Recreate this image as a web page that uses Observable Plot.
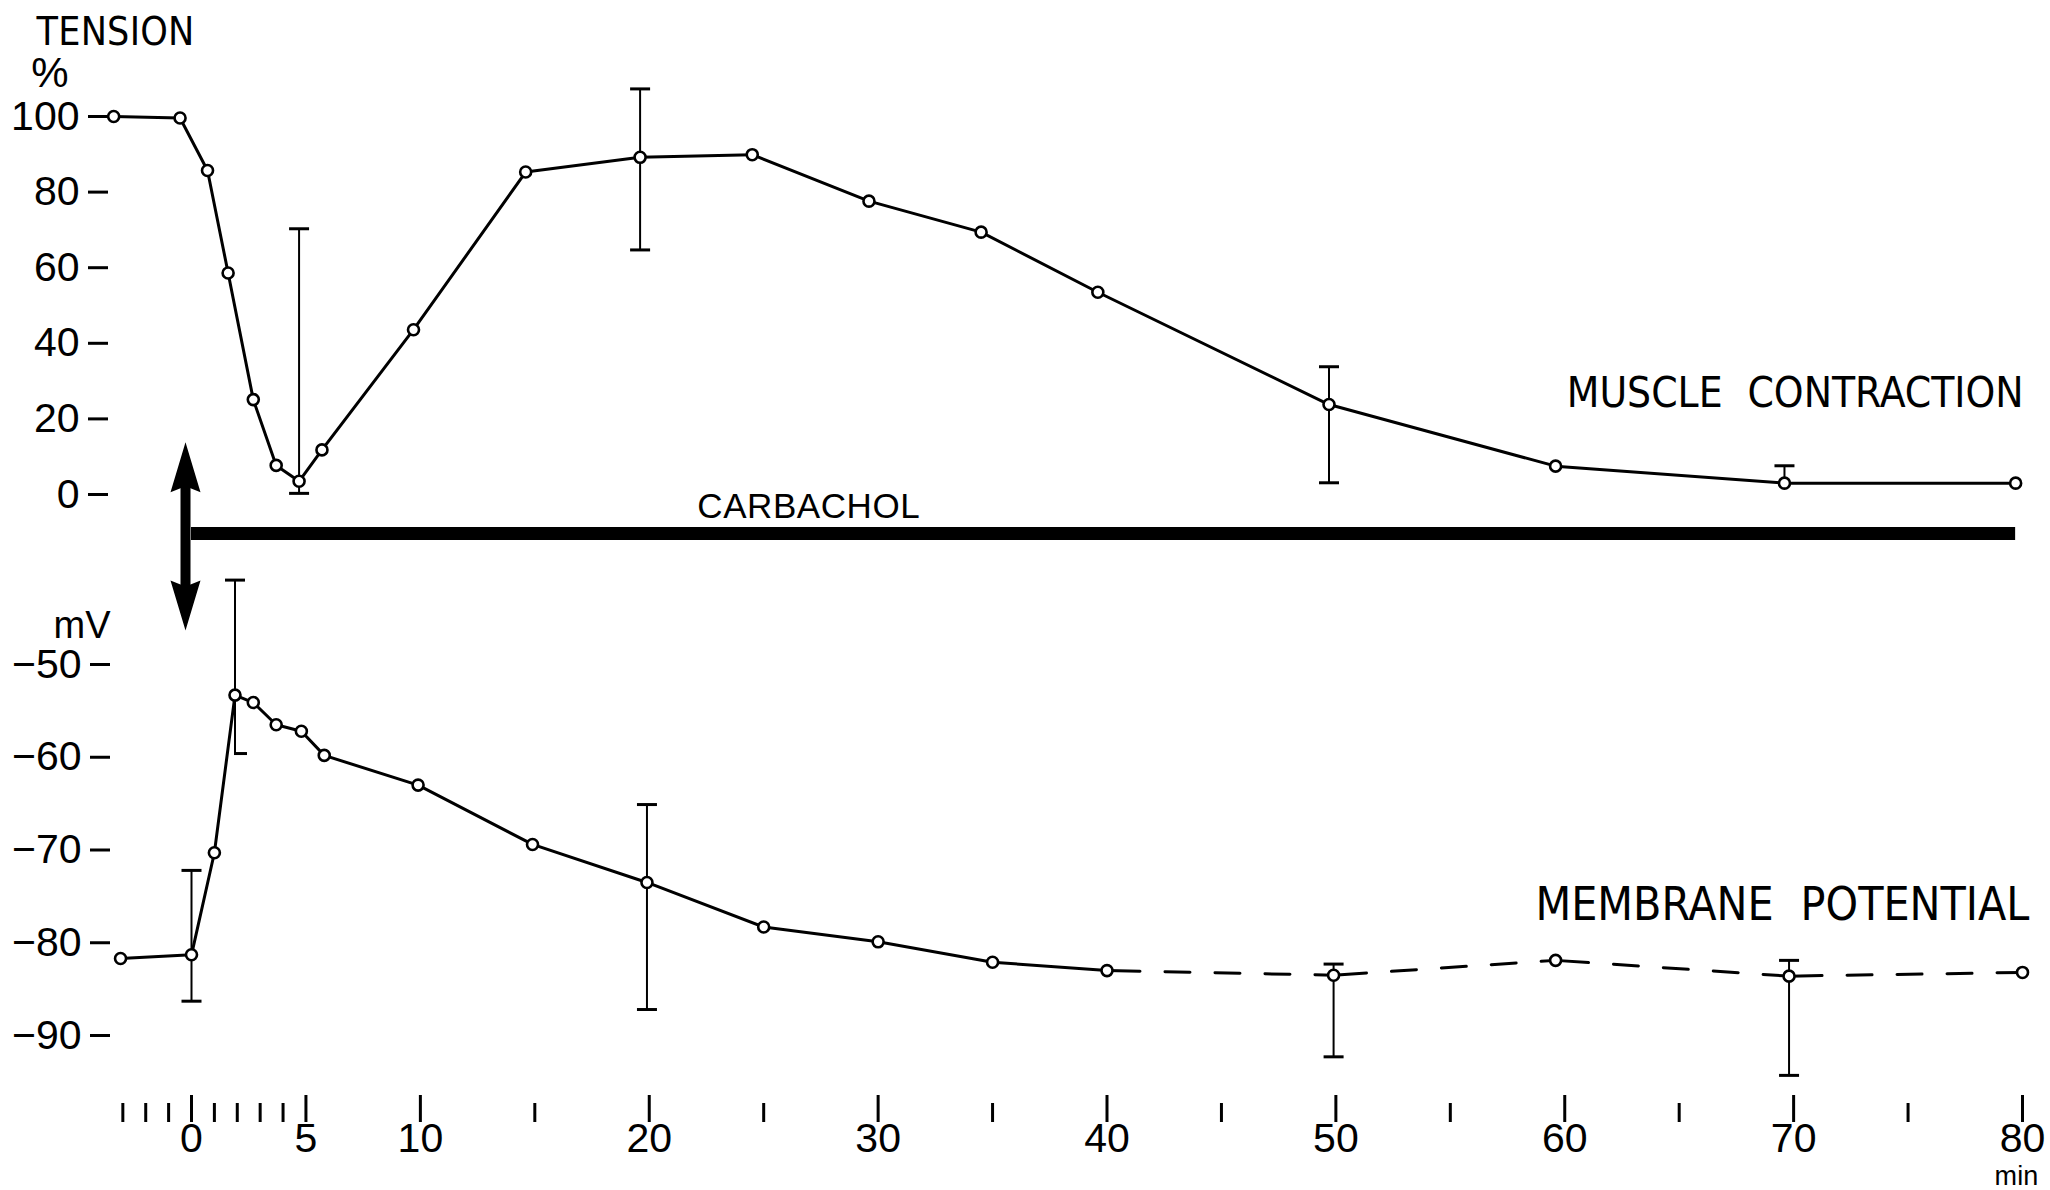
<!DOCTYPE html>
<html>
<head>
<meta charset="utf-8">
<script src="https://cdn.jsdelivr.net/npm/d3@7"></script>
<script src="https://cdn.jsdelivr.net/npm/@observablehq/plot@0.6"></script>
<style>
  html, body { margin: 0; padding: 0; background: #fff; overflow: hidden; }
  #chart { position: relative; width: 2050px; height: 1190px; }
  #chart svg { position: absolute; left: 0; top: 0; }
</style>
</head>
<body>
<div id="chart"></div>
<script>
// ---- Data (time in minutes relative to carbachol application) ----

// Muscle contraction, tension in % of control
const tensionTime = [-3.4, -0.5, 0.7, 1.6, 2.7, 3.7, 4.7, 5.7, 9.7, 14.6, 19.6, 24.5, 29.6, 34.5, 39.6, 49.7, 59.6, 69.6, 79.7];
const tensionPct  = [100, 99.6, 85.7, 58.6, 25.1, 7.7, 3.5, 11.8, 43.6, 85.3, 89.2, 89.9, 77.6, 69.4, 53.5, 23.8, 7.5, 3.0, 3.0];
const tensionErrTime = [4.7, 19.6, 49.7, 69.6];
const tensionErrLow  = [0.3, 64.7, 3.1, null];
const tensionErrHigh = [70.3, 107.3, 33.8, 7.6];

// Membrane potential, mV
const potentialTime = [-3.1, 0, 1.0, 1.9, 2.7, 3.7, 4.8, 5.8, 9.9, 14.9, 19.9, 25.0, 30.0, 35.0, 40.0, 49.9, 59.6, 69.8, 80.0];
const potentialMV   = [-81.7, -81.3, -70.3, -53.3, -54.1, -56.5, -57.2, -59.8, -63.0, -69.4, -73.5, -78.3, -79.9, -82.1, -83.0, -83.5, -81.9, -83.6, -83.2];
const potentialErrTime = [0, 1.9, 19.9, 49.9, 69.8];
const potentialErrLow  = [-86.3, -59.6, -87.2, -92.3, -94.3];
const potentialErrHigh = [-72.2, -40.9, -65.1, -82.3, -81.9];

// Carbachol present from application to end of recording
const carbacholMinutes = [0, 79.7];

// Axis ticks
const tensionTicks = [0, 20, 40, 60, 80, 100];
const potentialTicks = [-90, -80, -70, -60, -50];
const timeLabelTicks = [0, 5, 10, 20, 30, 40, 50, 60, 70, 80];
const timeMinorTicks = [-3, -2, -1, 1, 2, 3, 4, 15, 25, 35, 45, 55, 65, 75];

// ---- Records for the marks ----
const tension = tensionTime.map((t, i) => ({t, v: tensionPct[i]}));
const tensionErr = tensionErrTime.map((t, i) => ({
  t, lo: tensionErrLow[i], hi: tensionErrHigh[i],
  v: tension.find(d => d.t === t).v
}));
const potential = potentialTime.map((t, i) => ({t, mv: potentialMV[i]}));
const potentialErr = potentialErrTime.map((t, i) => ({t, lo: potentialErrLow[i], hi: potentialErrHigh[i]}));

// Solid trace up to 40 min, dashed (sparse sampling) afterwards
const solidUntil = 40;
const potentialSolid = potential.filter(d => d.t <= solidUntil);
const potentialDashed = potential.filter(d => d.t >= solidUntil)
  .flatMap((d, i, a) => i ? [{...a[i - 1], seg: i}, {...d, seg: i}] : []);

// ---- Custom symbols ----
const capSymbol = {draw(ctx, size) { const r = Math.sqrt(size / Math.PI); ctx.moveTo(-r, 0); ctx.lineTo(r, 0); }};
const halfCapSymbol = {draw(ctx, size) { const r = Math.sqrt(size / Math.PI); ctx.moveTo(-1, 0); ctx.lineTo(r, 0); }};
const arrowHeadSymbol = {draw(ctx, size) {
  const l = Math.sqrt(size / Math.PI);
  ctx.moveTo(0, 0); ctx.lineTo(-0.3 * l, l); ctx.lineTo(0, 0.88 * l); ctx.lineTo(0.3 * l, l); ctx.closePath();
}};

const W = 2050, H = 1190;
const font = `"Liberation Sans", Arial, Helvetica, sans-serif`;
const narrowFont = `"Liberation Sans Narrow", "DejaVu Sans Condensed", "Liberation Sans", Arial, sans-serif`;
const baseStyle = {fontFamily: font, fontSize: "41px", color: "#000", background: "transparent", overflow: "visible"};
const xScale = {domain: [0, 80], range: [191, 2022]};

// ---- Upper panel: tension ----
const upper = Plot.plot({
  width: W, height: H,
  marginLeft: 108, marginTop: 0, marginRight: 0, marginBottom: 0,
  style: baseStyle,
  x: {...xScale, axis: null},
  y: {domain: [0, 100], range: [494, 116]},
  marks: [
    Plot.axisY(tensionTicks, {anchor: "left", tickSize: 20, tickPadding: 9, strokeWidth: 3, fontSize: 41, label: null}),
    Plot.text(["TENSION"], {x: -6.77, y: 118.8, text: d => d, textAnchor: "start", lineAnchor: "bottom", fontSize: 39, fontFamily: narrowFont}),
    Plot.text(["%"], {x: -7.0, y: 107.7, text: d => d, textAnchor: "start", lineAnchor: "bottom", fontSize: 42}),

    // carbachol application: bar and double arrow
    Plot.ruleY([-10.3], {x1: carbacholMinutes[0], x2: carbacholMinutes[1], strokeWidth: 13, stroke: "#000"}),
    Plot.text(["CARBACHOL"], {x: 22.1, y: -6.3, text: d => d, textAnchor: "start", lineAnchor: "bottom", fontSize: 35}),
    Plot.ruleX([carbacholMinutes[0]], {dx: -6, y1: 5, y2: -27, strokeWidth: 10, stroke: "#000"}),
    Plot.dot([carbacholMinutes[0]], {x: d => d, dx: -6, y: 13.8, symbol: arrowHeadSymbol, r: 50, fill: "#000", stroke: "none"}),
    Plot.dot([carbacholMinutes[0]], {x: d => d, dx: -6, y: -36, symbol: arrowHeadSymbol, r: 50, rotate: 180, fill: "#000", stroke: "none"}),

    // error bars
    Plot.ruleX(tensionErr, {x: "t", y1: d => d.lo ?? d.v, y2: "hi", strokeWidth: 2, stroke: "#000"}),
    Plot.dot(tensionErr, {x: "t", y: "hi", symbol: capSymbol, r: 10, stroke: "#000", strokeWidth: 3, fill: "none"}),
    Plot.dot(tensionErr.filter(d => d.lo != null), {x: "t", y: "lo", symbol: capSymbol, r: 10, stroke: "#000", strokeWidth: 3, fill: "none"}),

    // trace
    Plot.line(tension, {x: "t", y: "v", strokeWidth: 3, stroke: "#000", strokeLinejoin: "round"}),
    Plot.dot(tension, {x: "t", y: "v", r: 5.5, fill: "#fff", stroke: "#000", strokeWidth: 2.6}),

    Plot.text(["MUSCLE CONTRACTION"], {x: 80.05, y: 23.1, text: d => d, textAnchor: "end", lineAnchor: "bottom", fontSize: 46, fontFamily: narrowFont})
  ]
});

// ---- Lower panel: membrane potential ----
const lower = Plot.plot({
  width: W, height: H,
  marginLeft: 110, marginTop: 0, marginRight: 0, marginBottom: 95,
  style: baseStyle,
  x: xScale,
  y: {domain: [-90, -50], range: [1035, 664]},
  marks: [
    Plot.axisY(potentialTicks, {anchor: "left", tickSize: 20, tickPadding: 9, strokeWidth: 3, fontSize: 41, label: null}),
    Plot.axisX(timeLabelTicks, {anchor: "bottom", tickSize: 27, tickPadding: 0, strokeWidth: 3, fontSize: 41, label: null}),
    Plot.axisX(timeMinorTicks, {anchor: "bottom", tickSize: 19, dy: 8, strokeWidth: 3, tickFormat: () => "", label: null}),
    Plot.text(["mV"], {x: -3.54, y: -47.1, text: d => d, textAnchor: "end", lineAnchor: "bottom", fontSize: 41}),
    Plot.text(["min"], {x: 80, dx: -6, y: -106.1, text: d => d, textAnchor: "middle", lineAnchor: "bottom", fontSize: 27}),

    // error bars (the early peak has only a half cap at its foot)
    Plot.ruleX(potentialErr, {x: "t", y1: "lo", y2: "hi", strokeWidth: 2, stroke: "#000"}),
    Plot.dot(potentialErr, {x: "t", y: "hi", symbol: capSymbol, r: 10, stroke: "#000", strokeWidth: 3, fill: "none"}),
    Plot.dot(potentialErr.filter((d, i) => i !== 1), {x: "t", y: "lo", symbol: capSymbol, r: 10, stroke: "#000", strokeWidth: 3, fill: "none"}),
    Plot.dot(potentialErr.filter((d, i) => i === 1), {x: "t", y: "lo", symbol: halfCapSymbol, r: 12, stroke: "#000", strokeWidth: 3, fill: "none"}),

    // trace
    Plot.line(potentialSolid, {x: "t", y: "mv", strokeWidth: 3, stroke: "#000", strokeLinejoin: "round"}),
    Plot.line(potentialDashed, {x: "t", y: "mv", z: "seg", strokeWidth: 3, stroke: "#000",
      strokeDasharray: "33,25,25,25,25,25,25,25,25,25,25,25"}),
    Plot.dot(potential, {x: "t", y: "mv", r: 5.5, fill: "#fff", stroke: "#000", strokeWidth: 2.6}),

    Plot.text(["MEMBRANE POTENTIAL"], {x: 80.3, y: -77.6, text: d => d, textAnchor: "end", lineAnchor: "bottom", fontSize: 47, fontFamily: narrowFont})
  ]
});

const chart = document.getElementById("chart");
chart.appendChild(upper);
chart.appendChild(lower);

// Stencil-style lettering: bring each label to its set width, spreading the
// letters when the face is narrower and easing the size when it is wider.
const measure = document.createElement("canvas").getContext("2d");
function setWidth(svg, content, width, family, size, wordGap = 0) {
  measure.font = `${size}px ${family}`;
  const natural = measure.measureText(content).width + wordGap;
  const sel = d3.select(svg).selectAll("text").filter(function() { return this.textContent === content; });
  if (wordGap) sel.style("word-spacing", `${wordGap}px`);
  if (natural > width) {
    sel.attr("font-size", size * width / natural);
    if (wordGap) sel.style("word-spacing", `${wordGap * width / natural}px`);
  } else {
    sel.attr("letter-spacing", (width - natural) / content.length);
  }
}
setWidth(upper, "TENSION", 158, narrowFont, 39);
setWidth(upper, "CARBACHOL", 223, font, 35);
setWidth(upper, "MUSCLE CONTRACTION", 457, narrowFont, 46, 14);
setWidth(lower, "MEMBRANE POTENTIAL", 494, narrowFont, 47, 14);
setWidth(lower, "mV", 57, font, 41);
setWidth(lower, "min", 44, font, 27);
</script>
</body>
</html>
